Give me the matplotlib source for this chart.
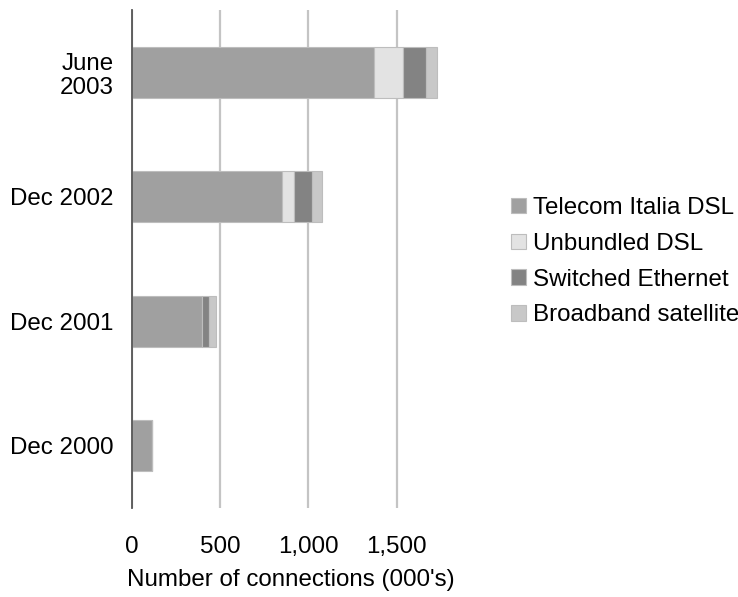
import matplotlib
matplotlib.use("Agg")
import matplotlib.pyplot as plt
import numpy as np
from matplotlib.patches import Patch

plt.rcParams['font.family'] = ['Liberation Sans', 'DejaVu Sans']

periods = ["Dec 2000", "Dec 2001", "Dec 2002", "June\n2003"]
series_names = ["Telecom Italia DSL", "Unbundled DSL", "Switched Ethernet", "Broadband satellite"]
telecom_dsl = [117, 395, 852, 1373]
unbundled_dsl = [0, 5, 64, 160]
switched_ethernet = [0, 40, 102, 133]
broadband_satellite = [0, 38, 60, 62]
colors = ["#a0a0a0", "#e3e3e3", "#838383", "#c8c8c8"]
xticks = [0, 500, 1000, 1500]
xtick_labels = ["0", "500", "1,000", "1,500"]

FS = 17.4

fig = plt.figure(figsize=(7.38, 5.97), dpi=100)
ax = fig.add_axes([0.1785, 0.149, 0.431, 0.834])

y = np.arange(len(periods))
left = np.zeros(len(periods))
for vals, col in zip([telecom_dsl, unbundled_dsl, switched_ethernet, broadband_satellite], colors):
    vals = np.array(vals, dtype=float)
    ax.barh(y, vals, left=left, height=0.41, color=col, edgecolor="#bdbdbd",
            linewidth=0.8, zorder=3)
    left += vals

ax.set_ylim(-0.5, 3.5)
ax.set_xlim(0, 1800)
ax.set_xticks(xticks)
ax.set_xticklabels(xtick_labels, fontsize=FS)
ax.set_yticks(y)
ax.set_yticklabels(periods, fontsize=FS, ha="right", linespacing=1.15)
ax.tick_params(axis="x", length=0, pad=20)
ax.tick_params(axis="y", length=0, pad=13)
ax.set_xlabel("Number of connections (000's)", fontsize=FS, labelpad=8)

ax.grid(axis="x", color="#c4c4c4", linewidth=1.6, zorder=0)
for s in ["top", "right", "bottom"]:
    ax.spines[s].set_visible(False)
ax.spines["left"].set_color("#555555")
ax.spines["left"].set_linewidth(1.3)
ax.spines["left"].set_zorder(4)

handles = [Patch(facecolor=c, edgecolor="#bdbdbd", linewidth=0.8) for c in colors]
fig.legend(handles, series_names, loc="center left", bbox_to_anchor=(0.693, 0.5615),
           frameon=False, fontsize=FS, handlelength=0.6, handleheight=0.6,
           handletextpad=0.3, labelspacing=0.57, borderpad=0, borderaxespad=0)

fig.savefig("out.png", dpi=100)
